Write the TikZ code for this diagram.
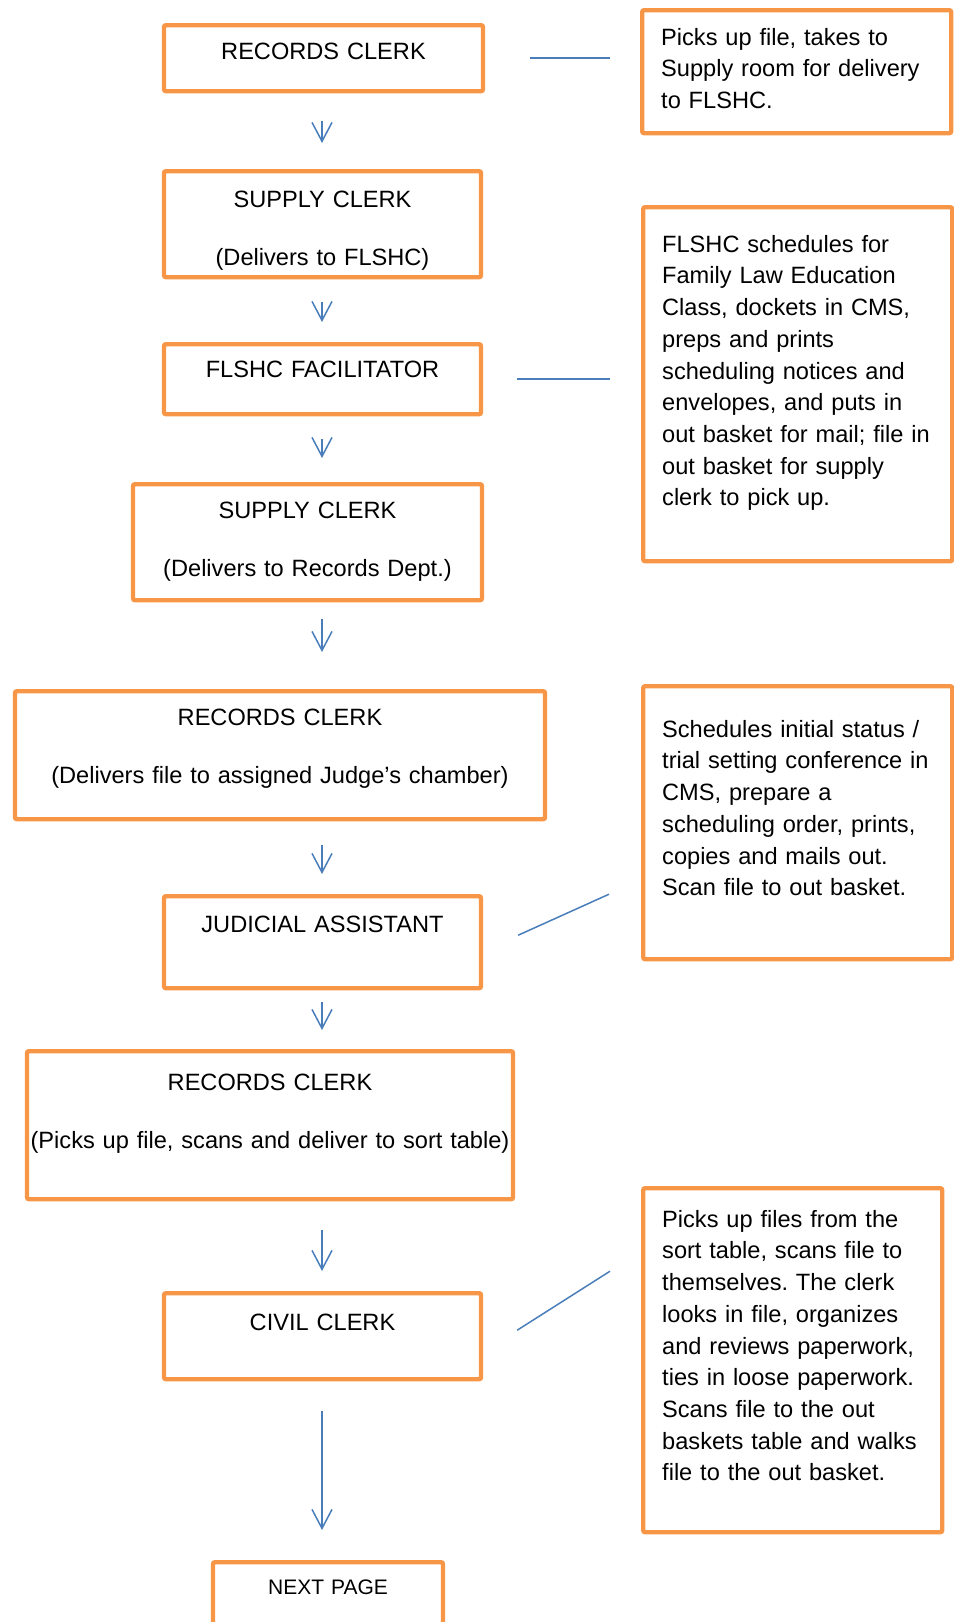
\documentclass[tikz,border=0pt]{standalone}
\usepackage{fontspec}
\setmainfont{Liberation Sans}
\usetikzlibrary{arrows.meta}
\definecolor{boxorange}{RGB}{247,150,70}
\definecolor{lineblue}{RGB}{74,126,187}

\begin{document}
\frenchspacing
\begin{tikzpicture}[x=.5pt, y=-.5pt,
		every node/.style={font=\fontsize{11.8}{15.85}\selectfont},
		stepbox/.style={draw=boxorange, line width=2.2pt, rounded corners=1pt, anchor=north, inner xsep=0pt, inner ysep=0pt, align=center},
		notebox/.style={draw=boxorange, line width=2.2pt, rounded corners=1pt, anchor=north west, inner xsep=9.5pt, inner ysep=0pt, align=left},
		flow/.style={draw=lineblue, line width=.75pt, -{Straight Barb[length=9.5pt, width=10pt]}},
		link/.style={draw=lineblue, line width=.75pt}]
	\useasboundingbox (0, 0) rectangle (953, 1622);
	% main chain
	\node[stepbox, text width=159.5pt, text height=17pt, text depth=16pt] (1) at (323.5, 23) {RECORDS CLERK};
	\node[stepbox, text width=158.5pt, text height=18pt, text depth=35pt] (2) at (322.5, 169) {SUPPLY CLERK\\[13.4pt](Delivers to FLSHC)};
	\node[stepbox, text width=158.5pt, text height=16.5pt, text depth=18.5pt] (3) at (322.5, 342) {FLSHC FACILITATOR};
	\node[stepbox, text width=174.5pt, text height=17pt, text depth=41pt] (4) at (307.5, 482) {SUPPLY CLERK\\[13.4pt](Delivers to Records Dept.)};
	\node[stepbox, text width=265pt, text height=17pt, text depth=47pt] (5) at (280, 689) {RECORDS CLERK\\[13.4pt](Delivers file to assigned Judge’s chamber)};
	\node[stepbox, text width=158.5pt, text height=18pt, text depth=28pt] (6) at (322.5, 894) {JUDICIAL ASSISTANT};
	\node[stepbox, text width=243pt, text height=19.5pt, text depth=54.5pt] (7) at (270, 1049) {RECORDS CLERK\\[13.4pt](Picks up file, scans and deliver to sort table)};
	\node[stepbox, text width=158.5pt, text height=18.5pt, text depth=24.5pt] (8) at (322.5, 1291) {CIVIL CLERK};
	\node[stepbox, text width=115pt, text height=16pt, text depth=34pt, font=\fontsize{10.5}{13}\selectfont] (9) at (328, 1560) {NEXT PAGE};
	% notes
	\node[notebox, text width=135.5pt, text height=17.5pt, text depth=44pt] (10) at (640, 8) {Picks up file, takes to\\Supply room for delivery\\to FLSHC.};
	\node[notebox, text width=135.5pt, text height=22.5pt, text depth=154.5pt] (11) at (641, 205) {FLSHC schedules for\\Family Law Education\\Class, dockets in CMS,\\preps and prints\\scheduling notices and\\envelopes, and puts in\\out basket for mail; file in\\out basket for supply\\clerk to pick up.};
	\node[notebox, text width=135.5pt, text height=25.5pt, text depth=111pt] (12) at (641, 684) {Schedules initial status /\\trial setting conference in\\CMS, prepare a\\scheduling order, prints,\\copies and mails out.\\Scan file to out basket.};
	\node[notebox, text width=130.5pt, text height=19.5pt, text depth=152.5pt] (13) at (641, 1186) {Picks up files from the\\sort table, scans file to\\themselves. The clerk\\looks in file, organizes\\and reviews paperwork,\\ties in loose paperwork.\\Scans file to the out\\baskets table and walks\\file to the out basket.};
	% arrows down the middle
	\coordinate (s) at (322, 0);
	\draw[flow, shorten <=14pt, shorten >=13pt] (1.south -| s) -- (2.north -| s);
	\draw[flow, shorten <=11.5pt, shorten >=10pt] (2.south -| s) -- (3.north -| s);
	\draw[flow, shorten <=11.5pt, shorten >=12pt] (3.south -| s) -- (4.north -| s);
	\draw[flow, shorten <=8.5pt, shorten >=18.5pt] (4.south -| s) -- (5.north -| s);
	\draw[flow, shorten <=12pt, shorten >=10pt] (5.south -| s) -- (6.north -| s);
	\draw[flow, shorten <=6pt, shorten >=9.5pt] (6.south -| s) -- (7.north -| s);
	\draw[flow, shorten <=14.5pt, shorten >=10pt] (7.south -| s) -- (8.north -| s);
	\draw[flow, shorten <=15pt, shorten >=15pt] (8.south -| s) -- (9.north -| s);
	% lines to the notes
	\draw[link, shorten <=22.5pt, shorten >=15pt] (1.east) -- (1.east -| 10.west);
	\draw[link, shorten <=17pt, shorten >=15.5pt] (3.east) -- (3.east -| 11.west);
	\coordinate (6a) at ([xshift=17.5pt, yshift=3.5pt]6.east);
	\coordinate (12a) at ([xshift=-16pt, yshift=-35.75pt]12.west);
	\draw[link] (6a) -- (12a);
	\coordinate (8a) at ([xshift=17pt, yshift=3pt]8.east);
	\coordinate (13a) at ([xshift=-15.5pt, yshift=44.5pt]13.west);
	\draw[link] (8a) -- (13a);
\end{tikzpicture}
\end{document}
